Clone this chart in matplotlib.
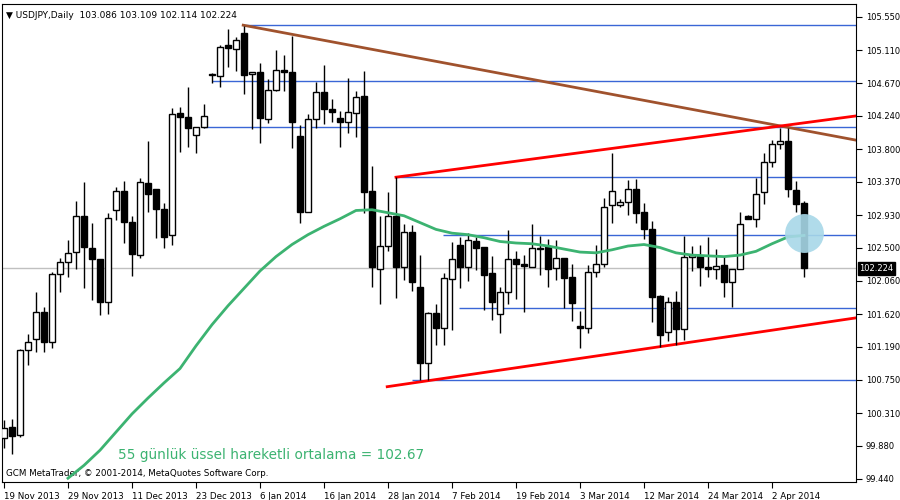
import matplotlib
matplotlib.use("Agg")
import matplotlib.pyplot as plt
from matplotlib.patches import Rectangle

opens = [99.98,100.13,100.02,101.15,101.29,101.65,101.25,102.15,102.31,102.44,
 102.92,102.50,102.35,101.78,103.00,103.25,102.84,102.40,103.35,103.28,
 103.01,102.67,104.28,104.23,103.99,104.10,104.78,104.77,105.18,105.13,
 105.34,104.80,104.82,104.20,104.58,104.85,104.82,103.98,102.97,104.20,
 104.56,104.33,104.21,104.16,104.28,104.51,103.25,102.22,102.52,102.92,
 102.24,102.71,101.98,100.97,101.64,101.44,102.09,102.53,102.24,102.59,
 102.51,102.16,101.62,101.91,102.35,102.28,102.24,102.50,102.51,102.23,
 102.36,102.11,101.46,101.44,102.18,102.28,103.06,103.06,103.10,103.28,
 102.97,102.75,101.86,101.38,101.78,101.42,102.38,102.39,102.24,102.22,
 102.27,102.05,102.22,102.92,102.88,103.24,103.63,103.87,103.91,103.26,103.086]
highs = [100.22,100.23,101.16,101.36,101.91,101.71,102.18,102.36,102.60,103.12,
 103.37,102.83,102.35,102.96,103.30,103.38,102.92,103.42,103.91,103.28,
 103.09,104.35,104.36,104.62,104.10,104.40,104.81,105.18,105.39,105.29,
 105.43,104.82,104.94,104.73,105.11,105.05,105.30,104.12,104.27,104.69,
 104.92,104.47,104.31,104.74,104.57,104.84,103.58,102.92,103.24,103.43,
 102.81,102.80,102.40,101.65,101.75,102.16,102.57,102.64,102.69,102.64,
 102.51,102.39,101.98,102.73,102.46,102.40,102.81,102.65,102.61,102.60,
 102.36,102.28,101.66,102.27,102.53,103.16,103.75,103.14,103.39,103.41,
 103.09,102.85,101.87,101.85,101.93,102.65,102.52,102.53,102.64,102.48,
 102.39,102.22,102.97,102.93,103.42,103.75,103.92,104.08,104.08,103.38,103.109]
lows = [99.85,99.77,100.00,100.95,101.12,101.12,101.17,101.91,102.11,102.22,
 101.97,101.81,101.61,101.62,102.87,102.56,102.12,102.36,102.97,102.63,
 102.50,102.53,103.76,103.83,103.75,104.08,104.68,104.62,104.89,104.84,
 104.53,104.07,103.88,104.15,104.57,104.57,103.82,102.83,102.97,104.08,
 104.14,104.16,103.83,104.02,103.96,102.96,101.98,101.75,102.46,101.83,
 102.07,101.93,100.75,100.75,101.21,101.21,101.41,101.97,102.06,102.20,
 101.68,101.54,101.37,101.75,101.82,101.65,102.24,102.14,101.98,102.07,
 101.70,101.53,101.17,101.37,102.11,102.24,102.83,103.04,102.93,102.83,
 102.61,101.52,101.19,101.27,101.21,101.28,102.19,101.99,102.11,102.09,
 101.85,101.71,102.22,102.88,102.77,103.08,103.57,103.80,103.17,102.97,102.114]
closes = [100.11,100.01,101.15,101.25,101.65,101.25,102.15,102.31,102.43,102.92,
 102.51,102.35,101.78,102.89,103.25,102.84,102.42,103.37,103.21,103.01,
 102.64,104.27,104.23,104.08,104.10,104.24,104.80,105.15,105.14,105.25,
 104.78,104.82,104.21,104.58,104.85,104.82,104.16,102.97,104.20,104.55,
 104.33,104.29,104.16,104.29,104.49,103.24,102.24,102.52,102.92,102.24,
 102.71,102.05,100.97,101.64,101.44,102.10,102.35,102.24,102.60,102.50,
 102.14,101.78,101.91,102.35,102.28,102.26,102.50,102.48,102.22,102.36,
 102.10,101.77,101.44,102.18,102.28,103.04,103.25,103.10,103.28,102.96,
 102.75,101.85,101.34,101.78,101.42,102.38,102.40,102.24,102.22,102.26,
 102.05,102.22,102.81,102.88,103.21,103.63,103.87,103.91,103.28,103.08,102.224]

ema_bars = [8,10,12,14,16,18,20,22,24,26,28,30,32,34,36,38,40,42,44,46,48,50,52,54,56,58,
            60,62,64,66,68,70,72,74,76,78,80,82,84,86,88,90,92,94,96,98,100]
ema_vals = [99.45,99.62,99.82,100.06,100.30,100.51,100.71,100.90,101.20,101.48,101.73,101.96,
            102.19,102.38,102.54,102.67,102.78,102.88,102.99,103.00,102.96,102.92,102.83,102.74,
            102.69,102.67,102.63,102.58,102.56,102.55,102.52,102.48,102.44,102.43,102.47,102.52,
            102.54,102.50,102.43,102.40,102.39,102.38,102.40,102.45,102.55,102.64,102.66]

# horizontal levels: (start bar, price)
levels = [(29.9, 105.44), (26.0, 104.70), (24.9, 104.10), (49.0, 103.43),
          (54.9, 102.67), (56.9, 101.70), (51.0, 100.75)]
brown_line = ([29.9, 106.5], [105.44, 103.92])
red_upper = ([49.0, 106.5], [103.43, 104.24])
red_lower = ([47.9, 106.5], [100.66, 101.57])

yticks = [105.550,105.110,104.670,104.240,103.800,103.370,102.930,102.500,
          102.060,101.620,101.190,100.750,100.310,99.880,99.440]
xlabels = ["19 Nov 2013","29 Nov 2013","11 Dec 2013","23 Dec 2013","6 Jan 2014",
           "16 Jan 2014","28 Jan 2014","7 Feb 2014","19 Feb 2014","3 Mar 2014",
           "12 Mar 2014","24 Mar 2014","2 Apr 2014"]
last_price = 102.224

fig = plt.figure(figsize=(9, 5), dpi=100)
ax = fig.add_axes([2/900, 1-482/500, 854/900, 478/500])
ax.set_xlim(-0.25, 106.5)
ax.set_ylim(99.40, 105.72)

for lv_start, lv in levels:
    ax.hlines(lv, lv_start, 106.5, color="#3a66d6", lw=1, zorder=1)
ax.axhline(last_price, color="#c0c0c0", lw=1, zorder=1)
ax.plot(*brown_line, color="#a0522d", lw=2, zorder=2)
ax.plot(*red_upper, color="red", lw=2, zorder=2)
ax.plot(*red_lower, color="red", lw=2, zorder=2)

w = 0.7
for i, (o, h, l, c) in enumerate(zip(opens, highs, lows, closes)):
    ax.vlines(i, l, h, color="black", lw=1, zorder=3)
    bottom = min(o, c)
    height = max(abs(c - o), 0.012)
    fc = "white" if c >= o else "black"
    ax.add_patch(Rectangle((i - w/2, bottom), w, height, facecolor=fc,
                           edgecolor="black", lw=1, zorder=4))

ax.plot(ema_bars, ema_vals, color="#3cb371", lw=2, zorder=5)
ax.plot([100], [102.69], "o", ms=28, color="#a8d8e8", alpha=0.9, mec="none", zorder=6)

ax.yaxis.tick_right()
ax.set_yticks(yticks)
ax.set_yticklabels([f"{v:.3f}" for v in yticks], fontsize=6)
ax.tick_params(axis="y", length=4, pad=3)
ax.set_xticks(range(0, 97, 8))
ax.set_xticklabels(xlabels, fontsize=6.3, ha="left")
ax.tick_params(axis="x", length=4, pad=3)
ax.text(1.004, last_price, f"{last_price:.3f}", transform=ax.get_yaxis_transform(),
        fontsize=6, color="white", va="center", ha="left",
        bbox=dict(boxstyle="square,pad=0.2", fc="black", ec="black"))

ax.text(0.005, 0.985, "▼ USDJPY,Daily  103.086 103.109 102.114 102.224", transform=ax.transAxes,
        fontsize=6.5, va="top", ha="left")
ax.text(0.005, 0.008, "GCM MetaTrader, © 2001-2014, MetaQuotes Software Corp.", transform=ax.transAxes,
        fontsize=6.3, va="bottom", ha="left")
ax.text(14.3, 99.76, "55 günlük üssel hareketli ortalama = 102.67", fontsize=9.8,
        color="#3cb371", va="center", ha="left")

fig.savefig("out.png", dpi=100)
